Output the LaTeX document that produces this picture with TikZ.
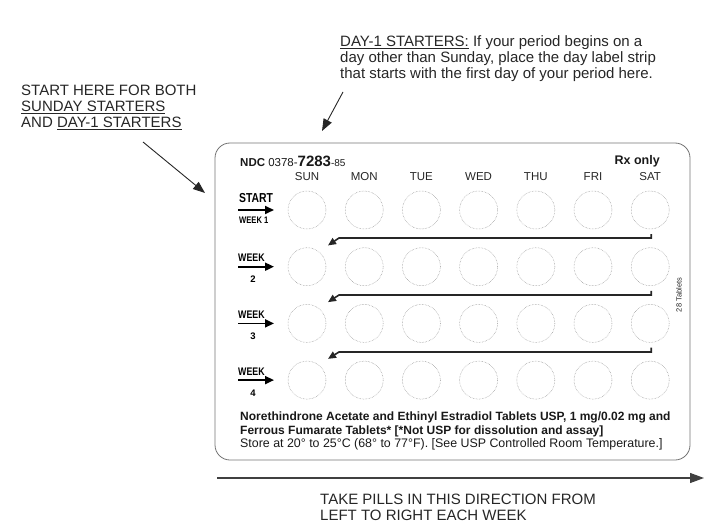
\documentclass[tikz,border=0pt]{standalone}
\usepackage{fontspec}
\setmainfont{Liberation Sans}
\usepackage{graphicx}
\usetikzlibrary{arrows.meta}

\newcommand{\narrow}[1]{\scalebox{0.8}[1]{#1}}

\tikzset{
	pill/.style={circle,draw=black!45,densely dotted,line width=0.5pt,minimum size=38pt,inner sep=0pt},
	card/.style={draw=black!55,line width=0.8pt,rounded corners=15pt},
	note/.style={anchor=base west,align=left,inner sep=0pt,text=black!85,font=\fontsize{15}{16}\selectfont},
	printed/.style={anchor=base west,align=left,inner sep=0pt,text=black!90,font=\fontsize{12.4}{13.5}\selectfont},
	daylab/.style={anchor=base,inner sep=0pt,text=black!85,font=\fontsize{11.5}{12}\selectfont},
	weeklab/.style={anchor=base,inner sep=0pt,text=black,font=\fontsize{11}{12}\selectfont\bfseries},
	backarrow/.style={black!85,line width=1.6pt,-{Triangle[length=8pt,width=7pt]}},
	weekarrow/.style={black,line width=1.8pt,-{Triangle[length=9pt,width=8pt]}},
	pointer/.style={black!85,line width=0.9pt,-{Triangle[length=12pt,width=9pt]}},
	flow/.style={black!75,line width=1.2pt,-{Triangle[length=14pt,width=10pt]}},
}

\begin{document}
\begin{tikzpicture}[x=1pt,y=-1pt]
	\useasboundingbox (0,0) rectangle (714,529);

	\node[note] (dayone) at (340,79)
		{\underline{DAY-1 STARTERS:} If your period begins on a\\
		day other than Sunday, place the day label strip\\
		that starts with the first day of your period here.};
	\node[note] (starthere) at (21,128)
		{START HERE FOR BOTH\\
		\underline{SUNDAY STARTERS}\\
		AND \underline{DAY-1 STARTERS}};

	\coordinate (dayfrom) at (343,92);
	\coordinate (dayto) at (322,131);
	\draw[pointer] (dayfrom) -- (dayto);
	\coordinate (startfrom) at (143,142);
	\coordinate (startto) at (205,193);
	\draw[pointer] (startfrom) -- (startto);

	\draw[card] (215,143) rectangle (690,460);

	\node[anchor=base west,inner sep=0pt,text=black!90] (ndc) at (240,167)
		{\fontsize{11.5}{12}\selectfont\textbf{NDC} 0378-\fontsize{15}{15}\selectfont\textbf{7283}\fontsize{10}{12}\selectfont-85};
	\node[anchor=base east,inner sep=0pt,text=black!90,font=\fontsize{12.5}{13}\selectfont\bfseries] (rx) at (660,165) {Rx only};

	\foreach \r in {1,...,4}
		\foreach \c in {1,...,7}
			\node[pill] (p\r\c) at ({307+57.2*(\c-1)},{210+56.7*(\r-1)}) {};

	\foreach \d [count=\c] in {SUN,MON,TUE,WED,THU,FRI,SAT}
		\node[daylab] (d\c) at ({307+57.2*(\c-1)},181) {\d};

	\foreach \r/\s/\y in {1/2/238,2/3/295,3/4/352}
		\draw[backarrow] ([shift={(1,5)}]p\r7.south) |- (339,\y) -- ([shift={(21,-2)}]p\s1.north);

	\node[weeklab,anchor=base west,font=\fontsize{13}{13}\selectfont\bfseries] (start) at (239,203) {\narrow{START}};
	\node[weeklab,anchor=base west,font=\fontsize{9.5}{10}\selectfont\bfseries] (week1) at (239,224) {\narrow{WEEK 1}};
	\draw[weekarrow] (238,210) -- (274,210);
	\foreach \r in {2,3,4} {
		\node[weeklab,anchor=base west] (week\r) at (238,{210+56.7*(\r-1)-5}) {\narrow{WEEK}};
		\node[weeklab,font=\fontsize{9.5}{10}\selectfont\bfseries] (num\r) at (253,{210+56.7*(\r-1)+16}) {\r};
		\draw[weekarrow] (238,{210+56.7*(\r-1)}) -- (274,{210+56.7*(\r-1)});
	}

	\node[rotate=90,inner sep=0pt,text=black!85,font=\fontsize{7.5}{8}\selectfont] (count) at (679,295) {28 Tablets};

	\node[printed,font=\fontsize{12}{13.8}\selectfont\bfseries] (drug) at (240,434)
		{Norethindrone Acetate and Ethinyl Estradiol Tablets USP, 1 mg/0.02 mg and\\
		Ferrous Fumarate Tablets* [*Not USP for dissolution and assay]};
	\node[printed] (store) at (240,447.5)
		{Store at 20° to 25°C (68° to 77°F). [See USP Controlled Room Temperature.]};

	\coordinate (flowfrom) at (217,478);
	\coordinate (flowto) at (704,478);
	\draw[flow] (flowfrom) -- (flowto);
	\node[note] (take) at (320,520)
		{TAKE PILLS IN THIS DIRECTION FROM\\
		LEFT TO RIGHT EACH WEEK};
\end{tikzpicture}
\end{document}
